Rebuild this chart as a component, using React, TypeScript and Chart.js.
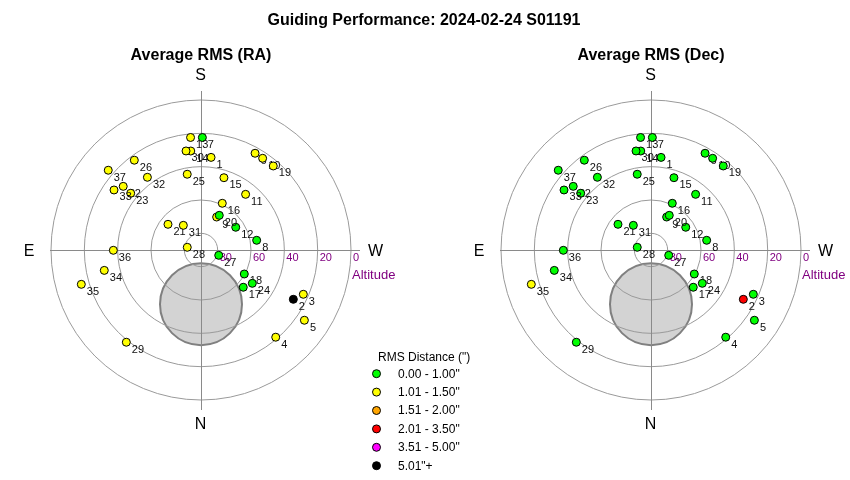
import { useEffect, useRef } from "react";
import { Chart, registerables } from "chart.js";

Chart.register(...registerables);

// ---- data ----
const pointIds = [
  1, 2, 3, 4, 5, 6, 7, 8, 9, 10, 11, 12, 13, 14, 15, 16, 17, 18, 19, 20,
  21, 22, 23, 24, 25, 26, 27, 28, 29, 30, 31, 32, 33, 34, 35, 36, 37,
];
const azimuthDeg = [
  186.2, 298.1, 293.4, 319.4, 304.2, 209.2, 180.7, 260.1, 205.4, 213.9,
  218.7, 236.8, 174.7, 174.1, 197.6, 204.5, 311.4, 299.0, 220.7, 207.8,
  127.9, 129.3, 128.9, 303.0, 169.7, 143.4, 286.7, 101.1, 39.0, 171.4,
  144.4, 143.6, 124.6, 78.1, 74.0, 89.8, 130.7,
];
const altitudeDeg = [
  34.1, 27.2, 23.1, 21.1, 15.0, 23.5, 22.5, 56.1, 68.1, 23.7,
  47.2, 65.1, 22.2, 30.3, 44.5, 59.2, 56.2, 60.3, 23.5, 66.5,
  64.9, 29.7, 35.8, 53.3, 43.8, 22.9, 78.9, 81.6, 18.8, 29.9,
  71.8, 35.8, 26.6, 30.7, 15.3, 37.4, 16.6,
];
// RMS class index per point (0 = 0.00-1.00", 1 = 1.01-1.50", ... 5 = 5.01"+)
const raRmsClass = [
  1, 5, 1, 1, 1, 1, 0, 0, 1, 1, 1, 0, 1, 1, 1, 1, 0, 0, 1, 0,
  1, 1, 1, 0, 1, 1, 0, 1, 1, 1, 1, 1, 1, 1, 1, 1, 1,
];
const decRmsClass = [
  0, 3, 0, 0, 0, 0, 0, 0, 0, 0, 0, 0, 0, 0, 0, 0, 0, 0, 0, 0,
  0, 0, 0, 0, 0, 0, 0, 0, 0, 0, 0, 0, 0, 0, 1, 0, 0,
];
const rmsClassLabels = [
  '0.00 - 1.00"',
  '1.01 - 1.50"',
  '1.51 - 2.00"',
  '2.01 - 3.50"',
  '3.51 - 5.00"',
  '5.01"+',
];
const rmsClassColors = ["#00ff00", "#ffff00", "#ffa500", "#ff0000", "#ff00ff", "#000000"];
const altitudeTicks = [80, 60, 40, 20, 0];
const compassLabels = ["S", "N", "E", "W"];
// limit zone (grey disc): centre azimuth / altitude and radius in degrees
const limitZone = { az: 0, alt: 57.5, radius: 24.6 };

const mainTitle = "Guiding Performance: 2024-02-24 S01191";
const panelTitles = ["Average RMS (RA)", "Average RMS (Dec)"];
const legendTitle = 'RMS Distance (")';

// ---- helpers ----
const FONT = '"Liberation Sans", Arial, Helvetica, sans-serif';
const project = (az: number, alt: number) => {
  const r = 90 - alt;
  const a = (az * Math.PI) / 180;
  return { x: -r * Math.sin(a), y: -r * Math.cos(a) };
};

const panelAxes = ["xRA", "xDec"];

function buildDatasets() {
  const sets: any[] = [];
  [raRmsClass, decRmsClass].forEach((classes, p) => {
    pointIds.forEach((id, i) => {
      const pt = project(azimuthDeg[i], altitudeDeg[i]);
      sets.push({
        label: `${panelAxes[p]}-${id}`,
        pointLabel: String(id),
        data: [pt],
        xAxisID: panelAxes[p],
        yAxisID: "y",
        backgroundColor: rmsClassColors[classes[i]],
        borderColor: "#000000",
        borderWidth: 1,
        pointRadius: 4,
        pointHoverRadius: 4,
        order: 1000 - i,
      });
    });
  });
  return sets;
}

const polarPlugin = {
  id: "polarDecor",
  beforeDatasetsDraw(chart: any) {
    const ctx: CanvasRenderingContext2D = chart.ctx;
    const ys = chart.scales.y;
    panelAxes.forEach((axis) => {
      const xs = chart.scales[axis];
      const cx = xs.getPixelForValue(0);
      const cy = ys.getPixelForValue(0);
      const unit = xs.getPixelForValue(1) - cx;
      ctx.save();
      // limit zone disc
      const lz = project(limitZone.az, limitZone.alt);
      ctx.beginPath();
      ctx.arc(xs.getPixelForValue(lz.x), ys.getPixelForValue(lz.y), limitZone.radius * unit, 0, Math.PI * 2);
      ctx.fillStyle = "#d3d3d3";
      ctx.fill();
      ctx.lineWidth = 2;
      ctx.strokeStyle = "#808080";
      ctx.stroke();
      // rings
      ctx.lineWidth = 1;
      ctx.strokeStyle = "#9a9a9a";
      altitudeTicks.forEach((alt) => {
        ctx.beginPath();
        ctx.arc(cx, cy, (90 - alt) * unit, 0, Math.PI * 2);
        ctx.stroke();
      });
      // cross hairs
      ctx.strokeStyle = "#8a8a8a";
      ctx.beginPath();
      ctx.moveTo(cx - 151, cy + 0.5);
      ctx.lineTo(cx + 159, cy + 0.5);
      ctx.moveTo(cx + 0.5, cy - 159);
      ctx.lineTo(cx + 0.5, cy + 160);
      ctx.stroke();
      // altitude tick labels
      ctx.fillStyle = "#800080";
      ctx.font = `11px ${FONT}`;
      ctx.textAlign = "left";
      ctx.textBaseline = "alphabetic";
      altitudeTicks.forEach((alt) => {
        ctx.fillText(String(alt), cx + (90 - alt) * unit + 2, cy + 11);
      });
      ctx.font = `13px ${FONT}`;
      ctx.fillText("Altitude", cx + 151, cy + 28.5);
      ctx.restore();
    });
  },
  afterDatasetDraw(chart: any, args: any) {
    const ds = chart.data.datasets[args.index];
    const el = args.meta.data[0];
    if (!el) return;
    const ctx: CanvasRenderingContext2D = chart.ctx;
    ctx.save();
    ctx.fillStyle = "#101010";
    ctx.font = `11px ${FONT}`;
    ctx.textAlign = "left";
    ctx.textBaseline = "alphabetic";
    ctx.fillText(ds.pointLabel, el.x + 5.5, el.y + 10.5);
    ctx.restore();
  },
  afterDraw(chart: any) {
    const ctx: CanvasRenderingContext2D = chart.ctx;
    const ys = chart.scales.y;
    ctx.save();
    ctx.fillStyle = "#000000";
    ctx.textAlign = "center";
    ctx.textBaseline = "alphabetic";
    ctx.font = `bold 16px ${FONT}`;
    ctx.fillText(mainTitle, 424, 25);
    panelAxes.forEach((axis, p) => {
      const xs = chart.scales[axis];
      const cx = xs.getPixelForValue(0);
      const cy = ys.getPixelForValue(0);
      ctx.font = `bold 16px ${FONT}`;
      ctx.textAlign = "center";
      ctx.fillText(panelTitles[p], cx, 60);
      ctx.font = `16px ${FONT}`;
      ctx.fillText(compassLabels[0], cx - 0.5, cy - 170);
      ctx.fillText(compassLabels[1], cx - 0.5, cy + 179);
      ctx.fillText(compassLabels[2], cx - 172, cy + 5.5);
      ctx.fillText(compassLabels[3], cx + 174.5, cy + 5.5);
    });
    // legend
    ctx.textAlign = "left";
    ctx.font = `12px ${FONT}`;
    ctx.fillText(legendTitle, 378, 361);
    rmsClassLabels.forEach((lab, i) => {
      const y = 373.7 + i * 18.4;
      ctx.beginPath();
      ctx.arc(376.5, y, 4, 0, Math.PI * 2);
      ctx.fillStyle = rmsClassColors[i];
      ctx.fill();
      ctx.lineWidth = 1;
      ctx.strokeStyle = "#000000";
      ctx.stroke();
      ctx.fillStyle = "#000000";
      ctx.textBaseline = "middle";
      ctx.fillText(lab, 398, y + 0.5);
    });
    ctx.restore();
  },
};

export default function App() {
  const ref = useRef<HTMLCanvasElement>(null);
  useEffect(() => {
    document.body.style.margin = "0";
    const chart = new Chart(ref.current as HTMLCanvasElement, {
      type: "scatter",
      data: { datasets: buildDatasets() },
      options: {
        animation: false,
        responsive: true,
        maintainAspectRatio: false,
        events: [],
        layout: { padding: 0, autoPadding: false },
        plugins: {
          legend: { display: false },
          title: { display: false },
          tooltip: { enabled: false },
        },
        scales: {
          xRA: { type: "linear", position: "bottom", display: false, min: -120.6, max: 389.4 },
          xDec: { type: "linear", position: "bottom", display: false, min: -390.6, max: 119.4 },
          y: { type: "linear", display: false, min: -138, max: 150 },
        },
      } as any,
      plugins: [polarPlugin as any],
    });
    return () => chart.destroy();
  }, []);
  return (
    <div style={{ position: "relative", width: 850, height: 480, background: "#ffffff" }}>
      <canvas ref={ref} />
    </div>
  );
}
